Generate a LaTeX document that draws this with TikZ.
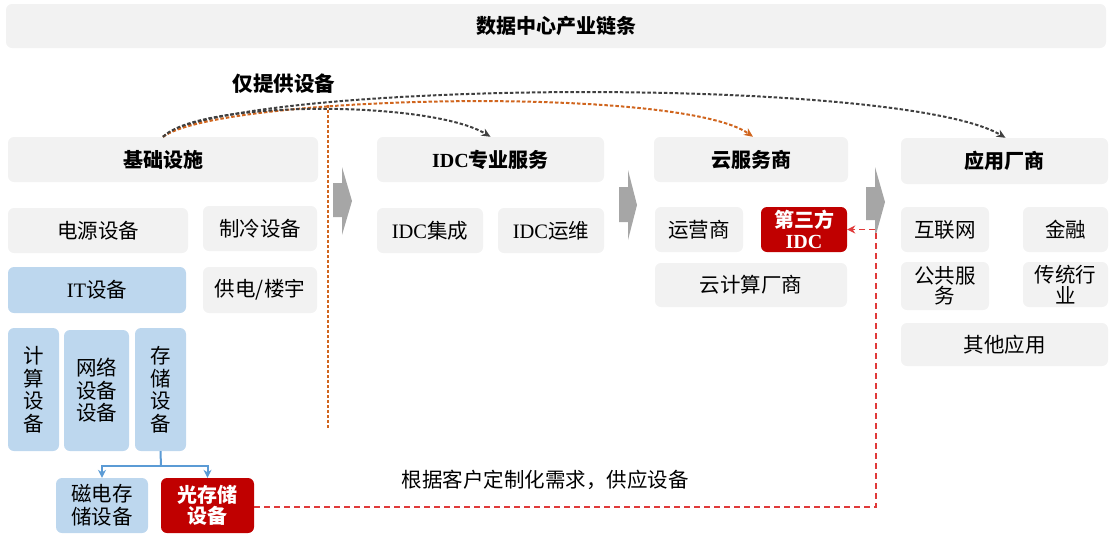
\documentclass[tikz,border=0pt]{standalone}
\usepackage{fontspec}
\setmainfont{Liberation Serif}
\newfontfamily\cjk{Noto Sans CJK SC}
\usetikzlibrary{arrows.meta}
\definecolor{boxgray}{HTML}{F2F2F2}
\definecolor{boxblue}{HTML}{BDD7EE}
\definecolor{boxred}{HTML}{C00000}
\definecolor{linkblue}{HTML}{5B9BD5}
\definecolor{linkred}{HTML}{E03A3A}
\definecolor{linkorange}{HTML}{D0651E}
\definecolor{arrowgray}{HTML}{A6A6A6}
\definecolor{darkdash}{HTML}{404040}
\tikzset{
  base/.style={rounded corners=6pt, inner sep=0pt, align=center,
    font=\cjk\fontsize{20.5}{23}\selectfont},
  gbox/.style={base, fill=boxgray},
  hbox/.style={base, fill=boxgray, font=\cjk\bfseries\fontsize{20}{22}\selectfont},
  bbox/.style={base, fill=boxblue},
  rbox/.style={base, fill=boxred, text=white, font=\cjk\bfseries\fontsize{20}{21}\selectfont},
  arc/.style={dashed, dash pattern=on 3.5pt off 2pt, line width=2pt, -{Stealth[length=9pt,width=8pt]}},
  bigarrow/.style={fill=arrowgray, draw=none},
}
\begin{document}
\begin{tikzpicture}[x=1pt,y=-1pt]
\useasboundingbox (0,0) rectangle (1110,536);
% title
\node[hbox, minimum width=1100, minimum height=44] (title) at (556,26) {数据中心产业链条};
% headers
\node[hbox, minimum width=310, minimum height=45] (h1) at (163,159.5) {基础设施};
\node[hbox, minimum width=227, minimum height=45] (h2) at (490.5,159.5) {{\rmfamily IDC}专业服务};
\node[hbox, minimum width=194, minimum height=45] (h3) at (751,159.5) {云服务商};
\node[hbox, minimum width=207, minimum height=46] (h4) at (1004.5,161) {应用厂商};
% infrastructure
\node[gbox, minimum width=180, minimum height=45] (power) at (98,230.5) {电源设备};
\node[gbox, minimum width=114, minimum height=45] (cool) at (260,228.5) {制冷设备};
\node[bbox, minimum width=178, minimum height=46] (it) at (97,290) {{\rmfamily IT}设备};
\node[gbox, minimum width=114, minimum height=46] (supply) at (260,290) {供电/楼宇};
\node[bbox, minimum width=51, minimum height=123, font=\cjk\fontsize{20.5}{22.5}\selectfont] (comp) at (33.5,389.5) {计\\算\\设\\备};
\node[bbox, minimum width=65, minimum height=121, font=\cjk\fontsize{20.5}{22.5}\selectfont] (net) at (96.5,390.5) {网络\\设备\\设备};
\node[bbox, minimum width=51, minimum height=123, font=\cjk\fontsize{20.5}{22.5}\selectfont] (stor) at (160.5,389.5) {存\\储\\设\\备};
\node[bbox, minimum width=92, minimum height=55] (mag) at (102,505.5) {磁电存\\储设备};
\node[rbox, minimum width=93, minimum height=55] (opt) at (207.5,505.5) {光存储\\设备};
% IDC services
\node[gbox, minimum width=106, minimum height=45] (integ) at (430,230.5) {{\rmfamily IDC}集成};
\node[gbox, minimum width=106, minimum height=45] (ops) at (551,230.5) {{\rmfamily IDC}运维};
% cloud
\node[gbox, minimum width=88, minimum height=45] (carrier) at (699,229.5) {运营商};
\node[rbox, minimum width=86, minimum height=45] (third) at (804,229.5) {第三方\\{\rmfamily IDC}};
\node[gbox, minimum width=192, minimum height=44] (cloudv) at (751,285) {云计算厂商};
% applications
\node[gbox, minimum width=88, minimum height=45] (inet) at (945,229.5) {互联网};
\node[gbox, minimum width=85, minimum height=45] (fin) at (1065.5,229.5) {金融};
\node[gbox, minimum width=88, minimum height=48, font=\cjk\fontsize{20.5}{20.5}\selectfont] (pub) at (945,286) {公共服\\务};
\node[gbox, minimum width=85, minimum height=45, font=\cjk\fontsize{20.5}{20.5}\selectfont] (trad) at (1065.5,284.5) {传统行\\业};
\node[gbox, minimum width=207, minimum height=43] (other) at (1004.5,344.5) {其他应用};
% labels
\node[font=\cjk\bfseries\fontsize{20.5}{22}\selectfont, inner sep=0pt] (lbl1) at (284,84) {仅提供设备};
\node[font=\cjk\fontsize{20.5}{22}\selectfont, inner sep=0pt] (lbl2) at (545,480) {根据客户定制化需求，供应设备};
% gray block arrows
\fill[bigarrow] (333,183) -- (342,183) -- (342,167) -- (352,201) -- (342,235) -- (342,217) -- (333,217) -- cycle;
\fill[bigarrow] (619,187) -- (628,187) -- (628,170) -- (637,205) -- (628,240) -- (628,222) -- (619,222) -- cycle;
\fill[bigarrow] (866,187) -- (875,187) -- (875,167) -- (885,202) -- (875,238) -- (875,220) -- (866,220) -- cycle;
% orange vertical dashed
\coordinate (ovtop) at (328,105);
\coordinate (ovbot) at (328,428);
\draw[linkorange, dashed, dash pattern=on 3pt off 2pt, line width=1.6pt] (ovtop) -- (ovbot);
% arcs
\draw[arc, darkdash] (h1.north) .. controls (230,80) and (900,75) .. ([xshift=1pt]h4.north);
\draw[arc, linkorange] (h1.north) .. controls (220,95) and (680,85) .. ([xshift=2pt]h3.north);
\draw[arc, darkdash] (h1.north) .. controls (200,100) and (430,100) .. (h2.north);
% blue connectors
\coordinate (bj) at (161,466);
\draw[linkblue, line width=2pt] (stor.south) -- (bj);
\draw[linkblue, line width=2pt, -{Stealth[length=8pt,width=8pt]}] (bj) -| (mag.north);
\draw[linkblue, line width=2pt, -{Stealth[length=8pt,width=8pt]}] (bj) -| (opt.north);
% red dashed connector
\coordinate (rc) at (876,507);
\draw[linkred, dashed, dash pattern=on 6pt off 4pt, line width=1.8pt, -{Stealth[length=8pt,width=8pt]}] (opt.east |- rc) -- (rc) |- (third.east);
\end{tikzpicture}
\end{document}
